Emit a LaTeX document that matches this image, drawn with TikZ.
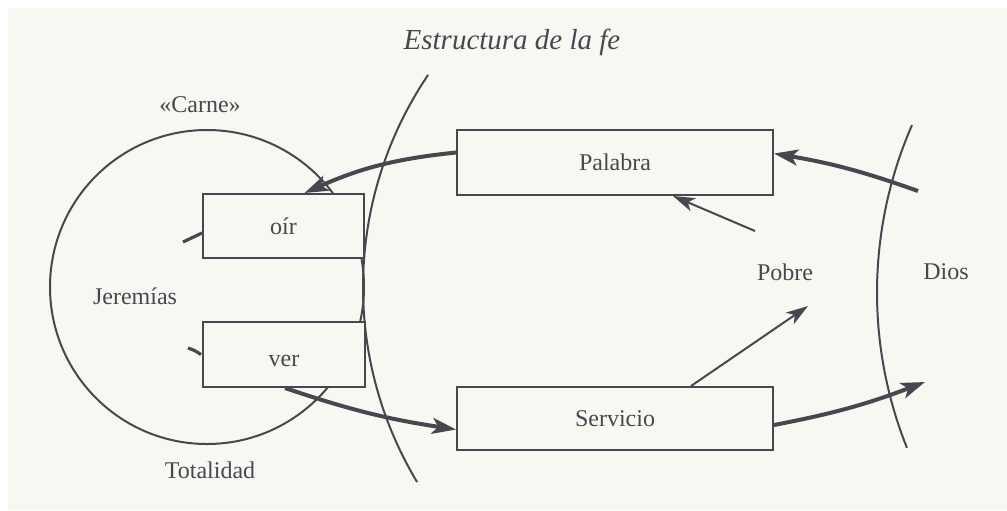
\documentclass[tikz,border=0pt]{standalone}
\usepackage{fontspec}
\setmainfont{Liberation Serif}
\usetikzlibrary{arrows.meta,calc}
\definecolor{ink}{RGB}{74,70,80}
\definecolor{paper}{RGB}{248,248,243}
\begin{document}
\begin{tikzpicture}[x=0.5pt,y=-0.5pt,
  font=\fontsize{12}{14}\selectfont,
  box/.style={draw=ink, line width=1pt, fill=paper, inner sep=0pt, text=ink},
  arcline/.style={draw=ink, line width=1pt},
  thickarrow/.style={draw=ink, line width=2pt, -{Stealth[length=12pt,width=8pt,inset=3pt]}},
  thinarrow/.style={draw=ink, line width=1pt, -{Stealth[length=11pt,width=7pt,inset=3pt]}},
  tick/.style={draw=ink, line width=1.6pt},
  lbl/.style={text=ink, inner sep=0pt}]
\fill[white] (0,0) rectangle (1007,510);
\fill[paper] (8,8) rectangle (1007,510);
\useasboundingbox (0,0) rectangle (1007,510);

% circle Jeremias
\node[circle, draw=ink, line width=1pt, minimum size=157pt, inner sep=0pt] (jer) at (207,287) {};

% arcs
\draw[arcline] plot[domain=149:214.1, samples=60] ({741.5+378.5*cos(\x)},{287.1+378.5*sin(\x)});
\draw[arcline] plot[domain=158.2:203.6, samples=60] ({1295.2+418.2*cos(\x)},{292.5+418.2*sin(\x)});

% boxes
\node[box, minimum width=80.5pt, minimum height=32pt] (oir) at (283.5,226) {oír};
\node[box, minimum width=81pt, minimum height=32.5pt] (ver) at (284,354.5) {\raisebox{-3pt}[\height][0pt]{ver}};
\node[box, minimum width=158pt, minimum height=32.5pt] (pal) at (615,162.5) {Palabra};
\node[box, minimum width=158pt, minimum height=31.5pt] (serv) at (615,418.5) {Servicio};

% labels
\node[lbl] (carne) at (200,105) {«Carne»};
\node[lbl] (jerlbl) at (135,296) {Jeremías};
\node[lbl] (tot) at (210,470) {Totalidad};
\node[lbl] (pobre) at (785,272) {Pobre};
\node[lbl] (dios) at (946,272) {Dios};
\node[lbl, font=\fontsize{14.5}{17}\selectfont\itshape] (title) at (512,42) {Estructura de la fe};

% free ends
\coordinate (d1) at (918,191);
\coordinate (d2) at (925,382);
\coordinate (p1) at (755,231);
\coordinate (p2) at (808,306);
\coordinate (t1) at (183,242);
\coordinate (t2) at (188,348);

% thick arrows
\draw[thickarrow] ($(pal.west)+(0,-10)$) to[bend right=9] ($(oir.north)+(21,0)$);
\draw[thickarrow] ($(ver.south)+(1,0)$) to[bend right=5] ($(serv.west)+(0,11)$);
\draw[thickarrow] (d1) to[bend right=5] ($(pal.east)+(0,-9)$);
\draw[thickarrow] ($(serv.east)+(0,6.5)$) to[bend right=5] (d2);

% thin arrows
\draw[thinarrow] (p1) -- ($(pal.south)+(58,0)$);
\draw[thinarrow] ($(serv.north)+(76,0)$) -- (p2);

% ticks
\draw[tick] ($(oir.west)+(0,7)$) -- (t1);
\draw[tick] ($(ver.west)+(-1,0)$) to[bend right=8] (t2);
\end{tikzpicture}
\end{document}
